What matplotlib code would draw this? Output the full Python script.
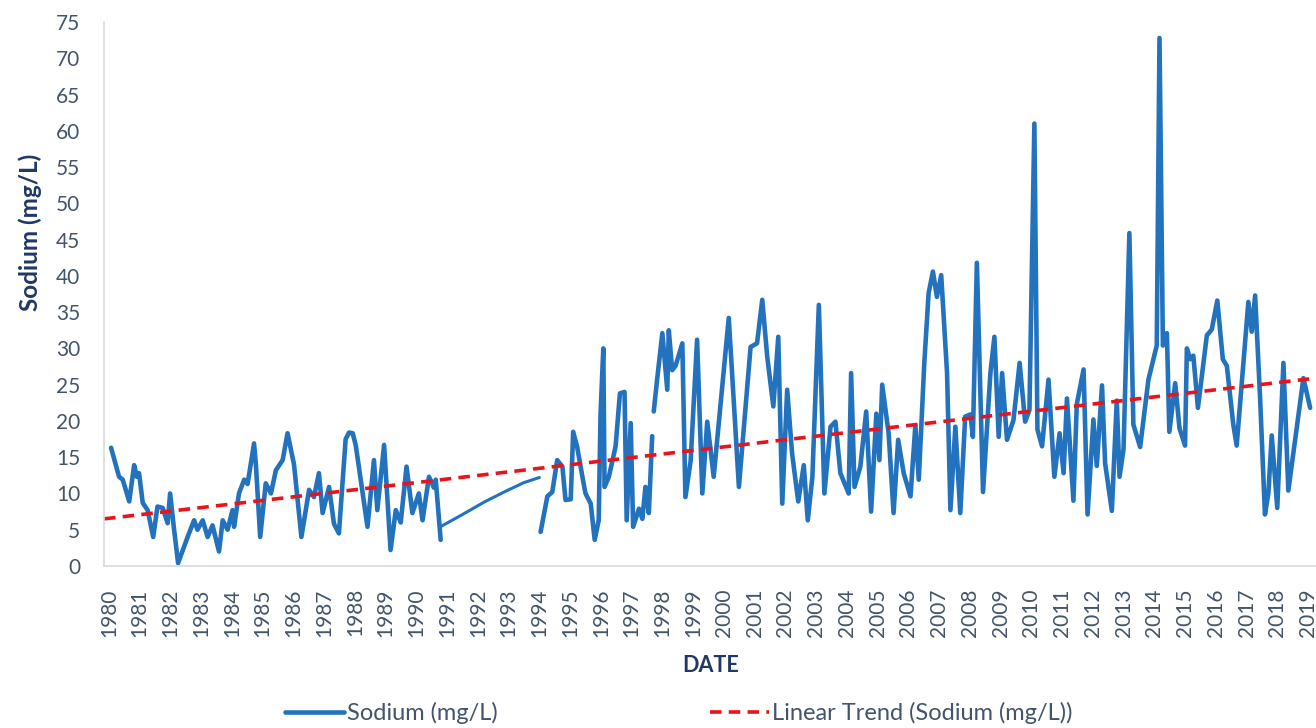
"""Sodium concentration over time with a linear trend line."""

import numpy as np
import matplotlib.pyplot as plt

# sample dates (decimal years) and sodium values; NaN marks gaps
sample_years = [
    1980.07, 1980.33, 1980.45, 1980.66, 1980.82, 1980.91, 1980.98, 1981.10, 1981.26, 1981.44,
    1981.58, 1981.75, 1981.91, 1981.99, 1982.12, 1982.25, 1982.56, 1982.77, 1982.88, 1983.05,
    1983.21, 1983.37, 1983.58, 1983.70, 1983.86, 1984.02, 1984.07, 1984.23, 1984.40, 1984.51,
    1984.72, 1984.78, 1984.92, 1985.10, 1985.27, 1985.43, 1985.65, 1985.81, 1986.02, 1986.26,
    1986.51, 1986.67, 1986.83, 1986.95, 1987.16, 1987.32, 1987.48, 1987.70, 1987.81, 1987.93,
    1988.03, 1988.41, 1988.62, 1988.73, 1988.95, 1989.16, 1989.33, 1989.49, 1989.68, 1989.87,
    1990.08, 1990.20, 1990.41, 1990.57, 1990.63, 1990.79,
    1994.00,
    1994.04, 1994.26, 1994.42, 1994.58, 1994.75, 1994.85, 1995.02, 1995.10, 1995.23, 1995.40,
    1995.50, 1995.67, 1995.80, 1995.93, 1995.99, 1996.08, 1996.12, 1996.26, 1996.48, 1996.62,
    1996.77, 1996.84, 1996.97, 1997.05, 1997.24, 1997.35, 1997.45, 1997.56, 1997.67,
    1997.70,
    1997.72, 1997.83, 1998.00, 1998.16, 1998.21, 1998.32, 1998.43, 1998.65, 1998.75, 1998.92,
    1999.13, 1999.30, 1999.46, 1999.67, 2000.16, 2000.49, 2000.87, 2001.08, 2001.25, 2001.41,
    2001.61, 2001.77, 2001.90, 2002.06, 2002.22, 2002.42, 2002.60, 2002.73, 2002.88, 2003.09,
    2003.27, 2003.47, 2003.63, 2003.79, 2004.06, 2004.14, 2004.25, 2004.44, 2004.63, 2004.79,
    2004.96, 2005.06, 2005.15, 2005.36, 2005.52, 2005.67, 2005.85, 2006.07, 2006.23, 2006.34,
    2006.52, 2006.66, 2006.80, 2006.93, 2007.07, 2007.26, 2007.37, 2007.53, 2007.69, 2007.85,
    2008.02, 2008.10, 2008.23, 2008.43, 2008.67, 2008.80, 2008.94, 2009.05, 2009.21, 2009.42,
    2009.62, 2009.80, 2009.94, 2010.10, 2010.20, 2010.35, 2010.56, 2010.75, 2010.92, 2011.05,
    2011.16, 2011.37, 2011.48, 2011.70, 2011.83, 2012.02, 2012.13, 2012.30, 2012.40, 2012.62,
    2012.78, 2012.87, 2013.00, 2013.19, 2013.32, 2013.54, 2013.81, 2014.08, 2014.17, 2014.28,
    2014.41, 2014.49, 2014.68, 2014.82, 2015.00, 2015.06, 2015.17, 2015.27, 2015.42, 2015.71,
    2015.87, 2016.05, 2016.23, 2016.36, 2016.57, 2016.68, 2017.06, 2017.17, 2017.28, 2017.44,
    2017.60, 2017.71, 2017.82, 2018.00, 2018.20, 2018.36, 2018.85, 2019.07,
]
sodium_values = [
    16.3, 12.3, 11.9, 8.9, 13.9, 12.3, 12.8, 8.7, 7.7, 4.0,
    8.2, 8.0, 5.9, 10.0, 5.0, 0.4, 4.0, 6.3, 5.0, 6.3,
    4.0, 5.6, 2.0, 6.3, 5.0, 7.7, 5.4, 10.0, 11.9, 11.3,
    16.9, 14.0, 4.0, 11.4, 10.0, 13.2, 14.6, 18.3, 14.0, 4.0,
    10.5, 9.5, 12.8, 7.3, 10.9, 5.8, 4.5, 17.5, 18.4, 18.3,
    16.6, 5.4, 14.6, 7.7, 16.7, 2.2, 7.7, 6.0, 13.7, 7.3,
    10.0, 6.3, 12.3, 10.8, 11.9, 3.6,
    np.nan,
    4.7, 9.6, 10.2, 14.6, 13.7, 9.1, 9.2, 18.5, 16.4, 12.3,
    10.0, 8.6, 3.6, 6.3, 21.0, 30.0, 10.9, 12.3, 16.5, 23.8,
    24.0, 6.3, 19.7, 5.4, 7.9, 6.5, 10.9, 7.3, 17.9,
    np.nan,
    21.3, 25.7, 32.1, 24.3, 32.5, 27.0, 27.6, 30.7, 9.5, 14.5,
    31.2, 10.0, 19.9, 12.3, 34.2, 10.9, 30.2, 30.7, 36.7, 28.9,
    22.0, 31.6, 8.6, 24.3, 15.5, 8.9, 13.9, 6.3, 12.3, 36.0,
    10.0, 19.2, 19.9, 12.8, 10.0, 26.6, 10.9, 13.7, 21.3, 7.5,
    21.0, 14.6, 25.0, 18.3, 7.3, 17.4, 12.8, 9.6, 19.4, 11.9,
    28.0, 37.6, 40.6, 37.1, 40.1, 26.6, 7.7, 19.2, 7.3, 20.6,
    20.9, 17.8, 41.8, 10.2, 26.6, 31.6, 17.8, 26.6, 17.4, 20.1,
    28.0, 19.9, 21.5, 61.0, 18.8, 16.5, 25.7, 12.3, 18.3, 12.8,
    23.1, 9.0, 22.3, 27.1, 7.1, 20.2, 13.8, 24.9, 14.2, 7.6,
    22.8, 12.3, 16.1, 45.9, 19.5, 16.4, 25.7, 30.4, 72.8, 30.4,
    32.1, 18.5, 25.2, 19.0, 16.6, 30.0, 28.5, 29.0, 21.8, 31.8,
    32.6, 36.6, 28.5, 27.6, 19.5, 16.6, 36.4, 32.3, 37.3, 23.3,
    7.1, 10.0, 18.0, 8.0, 28.0, 10.4, 25.9, 21.8,
]

# thin smoothed bridge across the 1991-1994 sampling gap
bridge_years = [1990.82, 1991.50, 1992.20, 1992.90, 1993.50, 1994.00]
bridge_values = [5.5, 7.1, 8.8, 10.3, 11.5, 12.2]

# linear trend line, start and end values
trend_years = [1979.84, 2019.26]
trend_values = [6.5, 25.9]

year_ticks = list(range(1980, 2020))
value_ticks = list(range(0, 80, 5))

TEXT_COLOR = "#44546A"
TITLE_COLOR = "#1F3864"
LINE_BLUE = "#2372BD"
TREND_RED = "#E8141C"

plt.rcParams["font.family"] = ["Lato", "DejaVu Sans"]

fig = plt.figure(figsize=(13.16, 7.28), dpi=100)
ax = fig.add_axes([104 / 1316, 1 - 566 / 728, 1 - 104 / 1316, (566 - 22) / 728])

sodium_line, = ax.plot(sample_years, sodium_values, color=LINE_BLUE, linewidth=3.3,
                       solid_joinstyle="round", solid_capstyle="round",
                       label="Sodium (mg/L)")
ax.plot(bridge_years, bridge_values, color=LINE_BLUE, linewidth=2.2,
        solid_capstyle="round")
trend_line, = ax.plot(trend_years, trend_values, color=TREND_RED, linewidth=2.6,
                      dashes=(3.2, 2.0), label="Linear Trend (Sodium (mg/L))")

ax.set_xlim(1979.84, 2019.26)
ax.set_ylim(0, 75)
ax.set_xticks(year_ticks)
ax.set_xticklabels([str(y) for y in year_ticks], rotation=90)
ax.set_yticks(value_ticks)
ax.tick_params(axis="both", length=0, labelsize=15, colors=TEXT_COLOR)
ax.tick_params(axis="x", pad=16)
ax.tick_params(axis="y", pad=17)

for side in ("top", "right"):
    ax.spines[side].set_visible(False)
for side in ("left", "bottom"):
    ax.spines[side].set_color("#D9D9D9")
    ax.spines[side].set_linewidth(1.2)

fig.text(30 / 1316, 1 - 232 / 728, "Sodium (mg/L)", rotation=90, ha="center",
         va="center", fontsize=17.5, fontweight="bold", color=TITLE_COLOR)
fig.text(711 / 1316, 1 - 665 / 728, "DATE", ha="center", va="center",
         fontsize=15.5, fontweight="bold", color=TITLE_COLOR)

legend = fig.legend(handles=[sodium_line, trend_line], loc="center",
                    bbox_to_anchor=(679 / 1316, 1 - 713 / 728), ncol=2,
                    frameon=False, fontsize=17, handlelength=2.5,
                    handletextpad=0.12, columnspacing=9.0)
for text in legend.get_texts():
    text.set_color(TEXT_COLOR)

fig.savefig("out.png", dpi=100)
